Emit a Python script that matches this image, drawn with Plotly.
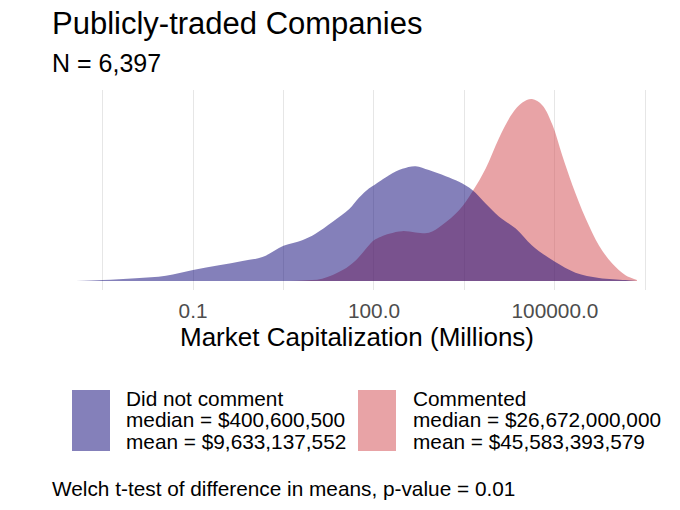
import plotly.graph_objects as go

# density of log10(market cap, millions)
LOG_CAP_NO = [-2.94, -2.5, -1.95, -1.45, -1.0, -0.57, -0.18, 0.15, 0.5, 0.81, 1.03, 1.31,
              1.59, 1.75, 1.92, 2.0, 2.25, 2.47, 2.69, 2.91, 3.19, 3.41, 3.63, 3.85,
              4.07, 4.35, 4.62, 5.0, 5.34, 5.73, 6.17, 6.36]
DENS_NO = [0.0, 0.002, 0.006, 0.012, 0.025, 0.036, 0.046, 0.055, 0.081, 0.094, 0.109, 0.136,
           0.166, 0.192, 0.214, 0.221, 0.244, 0.259, 0.265, 0.256, 0.242, 0.229, 0.210, 0.179,
           0.149, 0.121, 0.082, 0.044, 0.019, 0.007, 0.002, 0.0]

LOG_CAP_YES = [0.6, 0.81, 1.14, 1.48, 1.70, 1.92, 2.0, 2.25, 2.47, 2.69, 2.91, 3.13, 3.41,
               3.63, 3.85, 4.07, 4.29, 4.46, 4.62, 4.79, 4.96, 5.12, 5.29, 5.51, 5.73,
               5.95, 6.17, 6.36]
DENS_YES = [0.0, 0.001, 0.005, 0.025, 0.048, 0.083, 0.094, 0.109, 0.115, 0.112, 0.111, 0.129,
            0.163, 0.206, 0.259, 0.329, 0.386, 0.412, 0.42, 0.406, 0.36, 0.29, 0.221, 0.144,
            0.082, 0.040, 0.013, 0.002]

GROUPS = ["Did not comment", "Commented"]
MEDIANS = ["$400,600,500", "$26,672,000,000"]
MEANS = ["$9,633,137,552", "$45,583,393,579"]
N_TOTAL = "6,397"
P_VALUE = "0.01"

TICK_VALS = [0.1, 100, 100000]
TICK_TEXT = ["0.1", "100.0", "100000.0"]
MINOR_VALS = [10 ** -2.5, 10 ** 0.5, 10 ** 3.5, 10 ** 6.5]

BLUE = "rgba(9,1,117,0.5)"
RED = "rgba(209,71,77,0.5)"
FONT = "Liberation Sans"

# plot panel in pixels
L, T, W, H = 48, 90, 617, 200


def px_x(px):
    return (px - L) / W


def px_y(py):
    return (T + H - py) / H


fig = go.Figure()
fig.add_trace(go.Scatter(
    x=[10 ** v for v in LOG_CAP_YES], y=DENS_YES, mode="lines",
    line=dict(width=0, shape="spline", smoothing=1), fill="tozeroy", fillcolor=RED,
    hoverinfo="skip", showlegend=False,
))
fig.add_trace(go.Scatter(
    x=[10 ** v for v in LOG_CAP_NO], y=DENS_NO, mode="lines",
    line=dict(width=0, shape="spline", smoothing=1), fill="tozeroy", fillcolor=BLUE,
    hoverinfo="skip", showlegend=False,
))

peak = max(DENS_YES)
fig.update_xaxes(
    type="log", range=[-3.405, 6.825],
    tickvals=TICK_VALS, ticktext=TICK_TEXT, ticks="", ticklabelstandoff=6,
    tickfont=dict(family=FONT, size=20.8, color="#4D4D4D"),
    showgrid=True, gridcolor="#E6E6E6", gridwidth=1.2,
    minor=dict(tickvals=MINOR_VALS, showgrid=True, gridcolor="#E6E6E6", gridwidth=0.8),
    zeroline=False, showline=False,
)
fig.update_yaxes(range=[-0.05 * peak, 1.05 * peak], visible=False, showgrid=False)

ann = []


def text(x, y, s, size, color="black", anchor="left"):
    ann.append(dict(x=px_x(x), y=px_y(y), xref="paper", yref="paper", text=s,
                    showarrow=False, xanchor=anchor, yanchor="middle",
                    font=dict(family=FONT, size=size, color=color)))


text(50, 23.5, "Publicly-traded Companies", 31)
text(50, 62.5, f"N = {N_TOTAL}", 25)
text(357, 337, "Market Capitalization (Millions)", 26, anchor="center")

shapes = []
box_x = [72, 358]
text_x = [124, 411]
fills = [BLUE, RED]
for i in range(2):
    shapes.append(dict(type="rect", xref="paper", yref="paper",
                       x0=px_x(box_x[i]), x1=px_x(box_x[i] + 38),
                       y0=px_y(390), y1=px_y(451), fillcolor=fills[i], line_width=0))
    text(text_x[i], 398, GROUPS[i], 20.8)
    text(text_x[i], 419.6, f"median = {MEDIANS[i]}", 20.8)
    text(text_x[i], 441.2, f"mean = {MEANS[i]}", 20.8)

text(50, 488, f"Welch t-test of difference in means, p-value = {P_VALUE}", 20.8)

fig.update_layout(
    width=680, height=510,
    margin=dict(l=L, r=680 - L - W, t=T, b=510 - T - H),
    plot_bgcolor="white", paper_bgcolor="white",
    annotations=ann, shapes=shapes, showlegend=False,
)

# drop the page's default body margin so the figure sits at the window origin
fig.write_html("out.html", config={"displayModeBar": False},
               post_script="document.body.style.margin='0';")
